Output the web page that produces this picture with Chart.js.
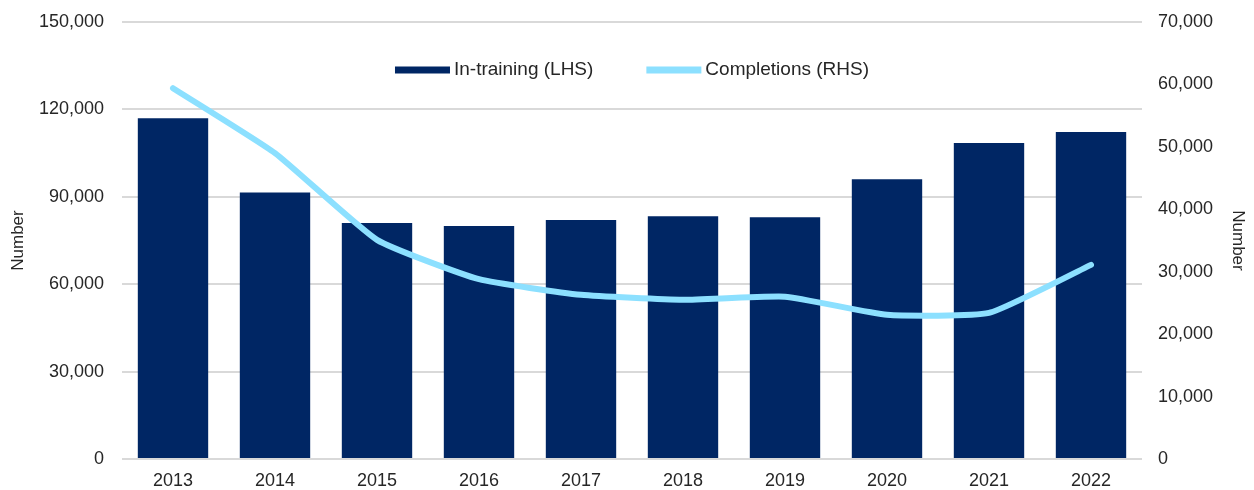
<!DOCTYPE html>
<html>
<head>
<meta charset="utf-8">
<script src="https://cdn.jsdelivr.net/npm/chart.js@4/dist/chart.umd.min.js"></script>
<style>
  body { margin: 0; background: #fff; }
  #wrap { width: 1254px; height: 490px; }
</style>
</head>
<body>
<div id="wrap"><canvas id="chart" width="1254" height="490"></canvas></div>
<script>
// data
const years = ['2013', '2014', '2015', '2016', '2017', '2018', '2019', '2020', '2021', '2022'];
const inTraining = [117000, 91500, 81000, 80000, 82000, 83300, 83000, 96000, 108500, 112200];
const completions = [59400, 49000, 35100, 28800, 26300, 25500, 26000, 23100, 23400, 31100];

const navy = '#002664';
const sky = '#8ce0ff';
const font = "'Liberation Sans', Arial, sans-serif";

Chart.defaults.font.family = font;
Chart.defaults.color = '#262626';

const fmt = v => v.toLocaleString('en-US');

// legend drawn inside the plot area, near the top, centred
const inlineLegend = {
    id: 'inlineLegend',
    afterDraw(chart) {
        const ctx = chart.ctx;
        const area = chart.chartArea;
        const boxW = 55, boxH = 7, boxGap = 4, itemGap = 53;
        ctx.save();
        ctx.font = '19px ' + font;
        ctx.textBaseline = 'middle';
        const items = chart.data.datasets.map(ds => ({
            text: ds.label,
            color: ds.backgroundColor,
            w: boxW + boxGap + ctx.measureText(ds.label).width
        }));
        const total = items.reduce((s, it) => s + it.w, 0) + itemGap * (items.length - 1);
        let x = (area.left + area.right) / 2 - total / 2;
        const y = area.top + 48;
        items.forEach(it => {
            ctx.fillStyle = it.color;
            ctx.fillRect(x, y - boxH / 2, boxW, boxH);
            ctx.fillStyle = '#262626';
            ctx.fillText(it.text, x + boxW + boxGap, y);
            x += it.w + itemGap;
        });
        ctx.restore();
    }
};

// fixed axis sizes so the plot area lines up with the reference
const fitSide = w => s => { s.width = w; s.paddingTop = 0; s.paddingBottom = 0; };

new Chart(document.getElementById('chart'), {
    type: 'bar',
    data: {
        labels: years,
        datasets: [{
            label: 'In-training (LHS)',
            data: inTraining,
            backgroundColor: navy,
            borderWidth: 0,
            barPercentage: 0.69,
            categoryPercentage: 1,
            yAxisID: 'y',
            order: 1
        }, {
            type: 'line',
            label: 'Completions (RHS)',
            data: completions,
            borderColor: sky,
            backgroundColor: sky,
            borderWidth: 6,
            borderCapStyle: 'round',
            tension: 0.15,
            pointRadius: 0,
            yAxisID: 'y1',
            order: 0
        }]
    },
    options: {
        responsive: false,
        animation: false,
        layout: { padding: { left: 0, right: 0, top: 22, bottom: 0 } },
        scales: {
            x: {
                grid: { display: false, drawTicks: false },
                border: { display: false },
                ticks: { font: { size: 18 }, padding: 11 },
                afterFit: s => { s.height = 31; }
            },
            y: {
                position: 'left',
                min: 0,
                max: 150000,
                ticks: { stepSize: 30000, callback: fmt, font: { size: 18 }, padding: 18 },
                grid: { color: '#d9d9d9', lineWidth: 2, drawTicks: false },
                border: { display: false },
                title: { display: true, text: 'Number', font: { size: 17 }, padding: { top: 8, bottom: 0 } },
                afterFit: fitSide(122)
            },
            y1: {
                position: 'right',
                min: 0,
                max: 70000,
                ticks: { stepSize: 10000, callback: fmt, font: { size: 18 }, padding: 16 },
                grid: { display: false, drawTicks: false },
                border: { display: false },
                title: { display: true, text: 'Number', font: { size: 17 }, padding: { top: 6, bottom: 0 } },
                afterFit: fitSide(112)
            }
        },
        plugins: {
            tooltip: { enabled: false },
            legend: { display: false }
        }
    },
    plugins: [inlineLegend]
});
</script>
</body>
</html>
